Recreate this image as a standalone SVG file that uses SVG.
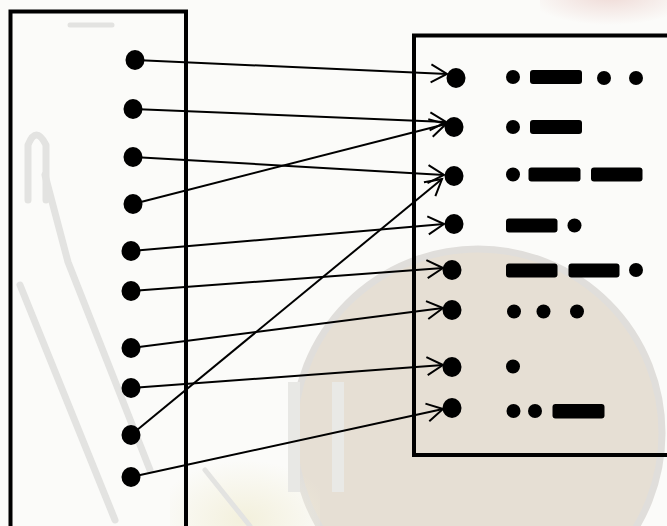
<svg xmlns="http://www.w3.org/2000/svg" width="667" height="526" viewBox="0 0 667 526">
  <style>
    .box { fill: none; stroke: #000; stroke-width: 4; }
    .dot { fill: #000; }
    .sym { fill: #000; }
    .conn { fill: none; stroke: #000; stroke-width: 2; marker-end: url(#arr); }
    .wm { fill: none; stroke: #e3e3e1; stroke-linecap: round; stroke-linejoin: round; }
  </style>
  <defs>
    <marker id="arr" viewBox="-20 -12 24 24" refX="0" refY="0" markerWidth="24" markerHeight="24" markerUnits="userSpaceOnUse" orient="auto" overflow="visible">
      <path d="M -16 -9 L 0 0 L -16 9" fill="none" stroke="#000" stroke-width="2" stroke-linejoin="miter"/>
    </marker>
    <radialGradient id="yel" cx="0.5" cy="0.8" r="0.6">
      <stop offset="0" stop-color="#f3f0dc"/>
      <stop offset="1" stop-color="#f3f0dc" stop-opacity="0"/>
    </radialGradient>
    <radialGradient id="pink" cx="0.5" cy="0.3" r="0.6">
      <stop offset="0" stop-color="#efdad6"/>
      <stop offset="1" stop-color="#efdad6" stop-opacity="0"/>
    </radialGradient>
  </defs>

  <!-- faint background scene -->
  <g id="background">
    <rect x="0" y="0" width="667" height="526" fill="#fbfbf9"/>
    <rect x="540" y="-20" width="140" height="50" fill="url(#pink)"/>
    <circle cx="478" cy="433" r="184" fill="#e6dfd4" stroke="#e0dedb" stroke-width="7"/>
    <rect x="170" y="440" width="150" height="100" fill="url(#yel)"/>
    <rect x="288" y="382" width="12" height="110" fill="#e8e8e5"/>
    <rect x="332" y="382" width="12" height="110" fill="#e9e9e6"/>
    <path class="wm" stroke-width="7" d="M 28 200 L 28 145 Q 36 125 46 145 L 46 200"/>
    <path class="wm" stroke-width="7" d="M 45 175 L 68 262 L 150 470"/>
    <path class="wm" stroke-width="7" d="M 20 285 L 115 520"/>
    <path class="wm" stroke-width="5" d="M 70 25 L 112 25"/>
    <path class="wm" stroke-width="5" d="M 205 470 L 250 526"/>
  </g>

  <!-- containers -->
  <g id="left-box">
    <rect class="box" x="10.5" y="11.5" width="175.5" height="530"/>
  </g>
  <g id="right-box">
    <rect class="box" x="414" y="35.5" width="270" height="419.5"/>
  </g>

  <!-- connectors -->
  <g id="connectors">
    <line class="conn" x1="135" y1="60" x2="447" y2="74"/>
    <line class="conn" x1="133" y1="109" x2="446" y2="122"/>
    <line class="conn" x1="133" y1="157" x2="444" y2="175"/>
    <line class="conn" x1="133" y1="204" x2="446" y2="124"/>
    <line class="conn" x1="131" y1="251" x2="444" y2="224"/>
    <line class="conn" x1="131" y1="291" x2="443" y2="268"/>
    <line class="conn" x1="131" y1="348" x2="443" y2="308"/>
    <line class="conn" x1="131" y1="388" x2="443" y2="365"/>
    <line class="conn" x1="131" y1="435" x2="442" y2="179"/>
    <line class="conn" x1="131" y1="477" x2="443" y2="409"/>
  </g>

  <!-- left nodes -->
  <g id="L1"><ellipse class="dot" cx="135" cy="60" rx="9.5" ry="10"/></g>
  <g id="L2"><ellipse class="dot" cx="133" cy="109" rx="9.5" ry="10"/></g>
  <g id="L3"><ellipse class="dot" cx="133" cy="157" rx="9.5" ry="10"/></g>
  <g id="L4"><ellipse class="dot" cx="133" cy="204" rx="9.5" ry="10"/></g>
  <g id="L5"><ellipse class="dot" cx="131" cy="251" rx="9.5" ry="10"/></g>
  <g id="L6"><ellipse class="dot" cx="131" cy="291" rx="9.5" ry="10"/></g>
  <g id="L7"><ellipse class="dot" cx="131" cy="348" rx="9.5" ry="10"/></g>
  <g id="L8"><ellipse class="dot" cx="131" cy="388" rx="9.5" ry="10"/></g>
  <g id="L9"><ellipse class="dot" cx="131" cy="435" rx="9.5" ry="10"/></g>
  <g id="L10"><ellipse class="dot" cx="131" cy="477" rx="9.5" ry="10"/></g>

  <!-- right nodes with morse codes -->
  <g id="R1">
    <ellipse class="dot" cx="456" cy="78" rx="9.5" ry="10"/>
    <circle class="sym" cx="513" cy="77" r="7"/>
    <rect class="sym" x="530" y="70" width="52" height="14" rx="3"/>
    <circle class="sym" cx="604" cy="78" r="7"/>
    <circle class="sym" cx="636" cy="78" r="7"/>
  </g>
  <g id="R2">
    <ellipse class="dot" cx="454" cy="127" rx="9.5" ry="10"/>
    <circle class="sym" cx="513" cy="127" r="7"/>
    <rect class="sym" x="530" y="120" width="52" height="14" rx="3"/>
  </g>
  <g id="R3">
    <ellipse class="dot" cx="454" cy="176" rx="9.5" ry="10"/>
    <circle class="sym" cx="513" cy="174.5" r="7"/>
    <rect class="sym" x="528.5" y="167.5" width="52" height="14" rx="3"/>
    <rect class="sym" x="591" y="167.5" width="51.5" height="14" rx="3"/>
  </g>
  <g id="R4">
    <ellipse class="dot" cx="454" cy="224" rx="9.5" ry="10"/>
    <rect class="sym" x="506" y="218.5" width="51.5" height="14" rx="3"/>
    <circle class="sym" cx="574.5" cy="225.5" r="7"/>
  </g>
  <g id="R5">
    <ellipse class="dot" cx="452" cy="270" rx="9.5" ry="10"/>
    <rect class="sym" x="506" y="263.5" width="51.5" height="14" rx="3"/>
    <rect class="sym" x="568.5" y="263.5" width="51" height="14" rx="3"/>
    <circle class="sym" cx="636" cy="270" r="7"/>
  </g>
  <g id="R6">
    <ellipse class="dot" cx="452" cy="310" rx="9.5" ry="10"/>
    <circle class="sym" cx="514" cy="311.5" r="7"/>
    <circle class="sym" cx="543.5" cy="311.5" r="7"/>
    <circle class="sym" cx="577" cy="311.5" r="7"/>
  </g>
  <g id="R7">
    <ellipse class="dot" cx="452" cy="367" rx="9.5" ry="10"/>
    <circle class="sym" cx="513" cy="366.5" r="7"/>
  </g>
  <g id="R8">
    <ellipse class="dot" cx="452" cy="408" rx="9.5" ry="10"/>
    <circle class="sym" cx="513.5" cy="411" r="7"/>
    <circle class="sym" cx="535" cy="411" r="7"/>
    <rect class="sym" x="552.5" y="404" width="52" height="14.5" rx="3"/>
  </g>
</svg>
